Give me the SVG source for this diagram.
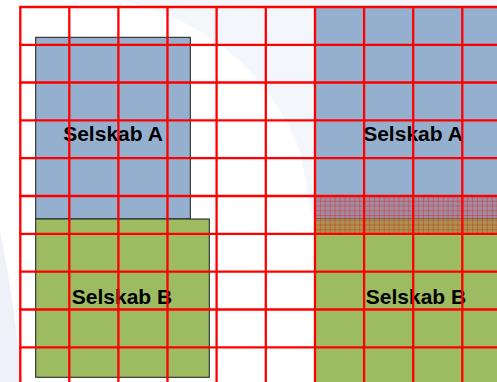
<svg xmlns="http://www.w3.org/2000/svg" width="497" height="382" viewBox="0 0 497 382">
  <style>
    .a { fill: #95b0cf; }
    .b { fill: #9dbb60; }
    .edge { stroke: #1a1a1a; stroke-width: 1; }
    .lbl { font-family: "Liberation Sans", Arial, sans-serif; font-weight: bold; font-size: 21px; fill: #000; text-anchor: middle; }
    .grid line { stroke: #ff0000; stroke-width: 2.3; }
  </style>
  <defs>
    <pattern id="hatch" x="315" y="196" width="4.91" height="4.75" patternUnits="userSpaceOnUse">
      <path d="M0 0.4 H4.91 M0.4 0 V4.75" stroke="#e02020" stroke-width="0.8" stroke-opacity="0.55" fill="none"/>
    </pattern>
  </defs>
  <rect x="0" y="0" width="497" height="382" fill="#ffffff"/>
  <path d="M120 0 Q 250 30 300 150 L 320 260 L 497 260 L 497 0 Z" fill="#f3f6fb"/>
  <path d="M0 230 Q 14 300 22 382 L 0 382 Z" fill="#eef2f8"/>

  <g id="left-A">
    <rect class="a edge" x="35.7" y="37.3" width="154.6" height="181.7"/>
    <text class="lbl" x="113" y="141">Selskab A</text>
  </g>
  <g id="left-B">
    <rect class="b edge" x="35.7" y="219" width="173.6" height="158.3"/>
    <text class="lbl" x="122" y="304">Selskab B</text>
  </g>
  <g id="right-A">
    <rect class="a" x="315" y="7" width="182" height="212"/>
    <text class="lbl" x="413" y="141">Selskab A</text>
  </g>
  <g id="right-B">
    <rect class="b" x="315" y="219" width="182" height="163"/>
    <text class="lbl" x="416" y="304">Selskab B</text>
  </g>
  <g id="overlap">
    <rect x="315" y="196" width="182" height="38" fill="#c0302a" fill-opacity="0.28"/>
    <rect x="315" y="196" width="182" height="38" fill="url(#hatch)"/>
    <line x1="315" y1="218.5" x2="497" y2="218.5" stroke="#7a3a30" stroke-width="1" stroke-opacity="0.6"/>
  </g>

  <g id="grid" class="grid">
    <line x1="20.3" y1="7" x2="20.3" y2="382"/>
    <line x1="69.3" y1="7" x2="69.3" y2="382"/>
    <line x1="118.4" y1="7" x2="118.4" y2="382"/>
    <line x1="167.5" y1="7" x2="167.5" y2="382"/>
    <line x1="216.6" y1="7" x2="216.6" y2="382"/>
    <line x1="265.8" y1="7" x2="265.8" y2="382"/>
    <line x1="315" y1="7" x2="315" y2="382"/>
    <line x1="364.1" y1="7" x2="364.1" y2="382"/>
    <line x1="413.2" y1="7" x2="413.2" y2="382"/>
    <line x1="462.3" y1="7" x2="462.3" y2="382"/>
    <line x1="19.2" y1="7" x2="497" y2="7"/>
    <line x1="19.2" y1="44.8" x2="497" y2="44.8"/>
    <line x1="19.2" y1="82.5" x2="497" y2="82.5"/>
    <line x1="19.2" y1="120.3" x2="497" y2="120.3"/>
    <line x1="19.2" y1="158.1" x2="497" y2="158.1"/>
    <line x1="19.2" y1="196" x2="497" y2="196"/>
    <line x1="19.2" y1="233.8" x2="497" y2="233.8"/>
    <line x1="19.2" y1="271.6" x2="497" y2="271.6"/>
    <line x1="19.2" y1="309.5" x2="497" y2="309.5"/>
    <line x1="19.2" y1="347.3" x2="497" y2="347.3"/>
  </g>
</svg>
